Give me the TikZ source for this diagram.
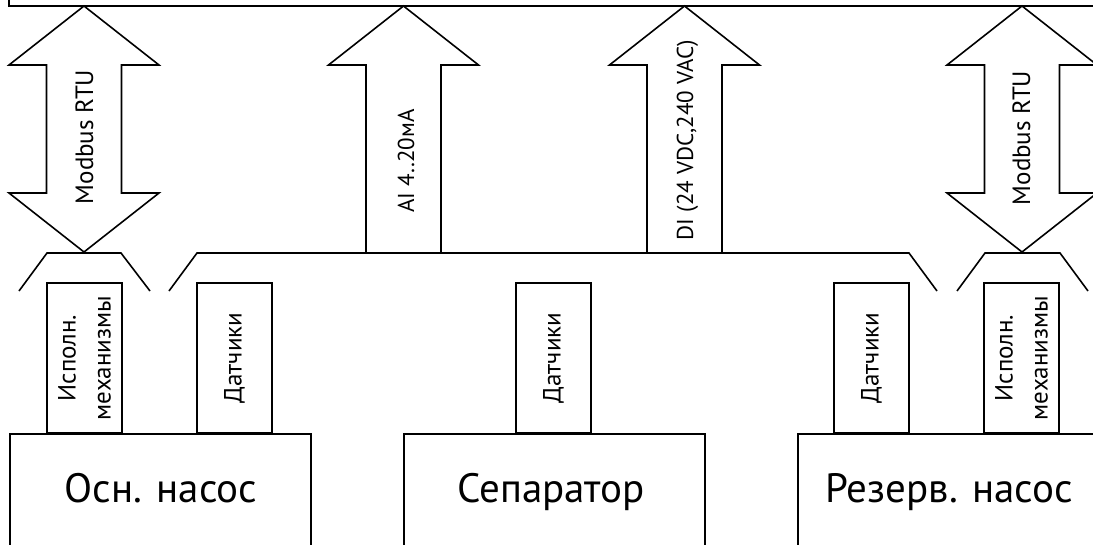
\documentclass[tikz,border=0pt]{standalone}
\usepackage{fontspec}
\setmainfont{PT Sans}
\begin{document}
\begin{tikzpicture}[x=1pt,y=-1pt,
  line width=1.6pt, line join=miter,
  sbox/.style={draw, rotate=90, minimum width=150pt, minimum height=75pt, inner sep=0pt,
    font=\fontsize{25}{27}\selectfont, align=center},
  bbox/.style={draw, minimum width=301pt, minimum height=140pt, anchor=north west, inner sep=0pt},
  btext/.style={anchor=base, inner sep=0pt, font=\fontsize{41}{48}\selectfont},
  atext/.style={anchor=base, rotate=90, inner sep=0pt, font=\fontsize{25}{27}\selectfont},
  stext/.style={atext, font=\fontsize{23}{27}\selectfont},
  busline/.style={draw}
]
\useasboundingbox (0,0) rectangle (1093,544);
\clip (0,0) rectangle (1093,544);

% top frame
\draw (9,-5) -- (9,6) -- (1100,6);

% left double arrow
\draw (84,6) -- (159,65) -- (121.5,65) -- (121.5,193) -- (159,193) -- (84,252)
  -- (9,193) -- (46.5,193) -- (46.5,65) -- (9,65) -- cycle;
\node[atext] (mb1) at (93,137) {Modbus RTU};

% right double arrow
\draw (1022,6) -- (1097,65) -- (1059.5,65) -- (1059.5,193) -- (1097,193) -- (1022,252)
  -- (947,193) -- (984.5,193) -- (984.5,65) -- (947,65) -- cycle;
\node[atext] (mb2) at (1030,138) {Modbus RTU};

% AI arrow
\draw (403.5,6) -- (478.5,65) -- (441,65) -- (441,253) -- (366,253) -- (366,65) -- (328.5,65) -- cycle;
\node[stext] (ai) at (414,161) {AI 4..20мА};

% DI arrow
\draw (684.5,6) -- (759.5,65) -- (722,65) -- (722,253) -- (647,253) -- (647,65) -- (609.5,65) -- cycle;
\node[stext] (di) at (693,140) {DI (24 VDC,240 VAC)};

% bus lines
\draw[busline] (19,291) -- (47,253) -- (121,253) -- (150,291);
\draw[busline] (169,291) -- (197,253) -- (909,253) -- (937,291);
\draw[busline] (957,291) -- (985,253) -- (1060,253) -- (1088,291);

% big boxes
\node[bbox] (osn) at (9,433) {};
\node[bbox] (sep) at (403,433) {};
\node[bbox] (rez) at (797,433) {};
\node[btext] (osnt) at (161,502) {Осн. насос};
\node[btext] (sept) at (551,502) {Сепаратор};
\node[btext] (rezt) at (949,502) {Резерв. насос};

% small boxes
\node[sbox] (isp1) at (84.5,358) {Исполн.\\[8pt]механизмы};
\node[sbox] (dat1) at (234.5,358) {Датчики};
\node[sbox] (dat2) at (553.5,358) {Датчики};
\node[sbox] (dat3) at (871.5,358) {Датчики};
\node[sbox] (isp2) at (1021.5,358) {Исполн.\\[8pt]механизмы};
\end{tikzpicture}
\end{document}
